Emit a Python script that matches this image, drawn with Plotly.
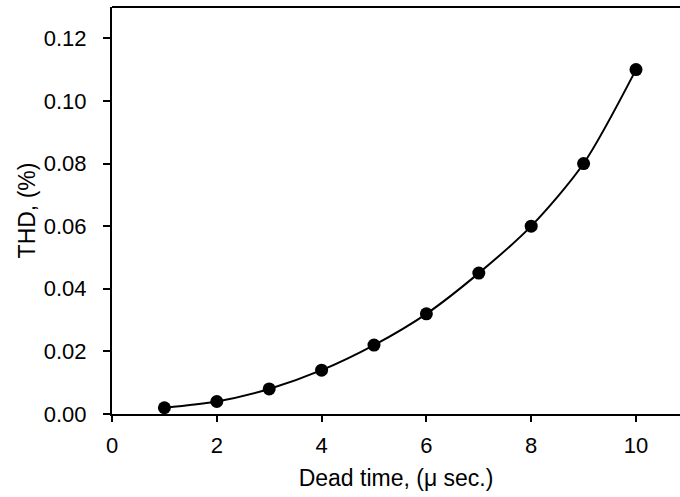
import plotly.graph_objects as go

dead_time = [1, 2, 3, 4, 5, 6, 7, 8, 9, 10]
thd = [0.002, 0.004, 0.008, 0.014, 0.022, 0.032, 0.045, 0.060, 0.080, 0.110]

font = dict(family="Liberation Sans, Arial, sans-serif", size=22, color="black")
title_font = dict(family="Liberation Sans, Arial, sans-serif", size=23, color="black")

fig = go.Figure()
fig.add_trace(go.Scatter(
    x=dead_time, y=thd, mode="lines+markers",
    line=dict(color="black", width=2, shape="spline", smoothing=0.8),
    marker=dict(color="black", size=13),
    showlegend=False,
))

fig.update_layout(
    width=680, height=497,
    margin=dict(l=112, r=0, t=7, b=83),
    paper_bgcolor="white", plot_bgcolor="white",
    font=font,
    xaxis=dict(
        range=[0, 10.84], tickvals=[0, 2, 4, 6, 8, 10],
        showline=True, linecolor="black", linewidth=2,
        ticks="outside", ticklen=6, tickwidth=2, tickcolor="black",
        ticklabelstandoff=5,
        showgrid=False, zeroline=False,
        title=dict(text="Dead time, (μ sec.)", font=title_font, standoff=12),
    ),
    yaxis=dict(
        range=[0, 0.13], tickvals=[0, 0.02, 0.04, 0.06, 0.08, 0.10, 0.12],
        tickformat=".2f",
        showline=True, linecolor="black", linewidth=2,
        ticks="outside", ticklen=7, tickwidth=2, tickcolor="black",
        ticklabelstandoff=12,
        showgrid=False, zeroline=False,
        title=dict(text="THD, (%)", font=title_font, standoff=2),
    ),
    shapes=[dict(type="line", xref="paper", yref="paper", x0=0, x1=1, y0=1, y1=1,
                 line=dict(color="black", width=2))],
)

fig.write_html("out.html")
